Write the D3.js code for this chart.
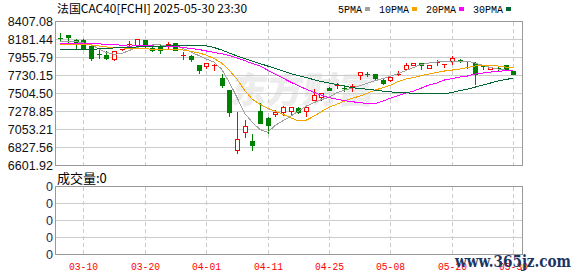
<!DOCTYPE html>
<html>
<head>
<meta charset="utf-8">
<script src="https://cdn.jsdelivr.net/npm/d3@7"></script>
<style>
  html, body { margin: 0; padding: 0; background: #fff; }
  svg { display: block; }
</style>
</head>
<body>
<div id="chart"></div>
<script>
// CAC40 daily k-line, 2025-03-05 .. 2025-05-30
const dates = [
  '2025-03-05','2025-03-06','2025-03-07','2025-03-10','2025-03-11','2025-03-12','2025-03-13','2025-03-14',
  '2025-03-17','2025-03-18','2025-03-19','2025-03-20','2025-03-21','2025-03-24','2025-03-25','2025-03-26',
  '2025-03-27','2025-03-28','2025-03-31','2025-04-01','2025-04-02','2025-04-03','2025-04-04','2025-04-07',
  '2025-04-08','2025-04-09','2025-04-10','2025-04-11','2025-04-14','2025-04-15','2025-04-16','2025-04-17',
  '2025-04-22','2025-04-23','2025-04-24','2025-04-25','2025-04-28','2025-04-29','2025-04-30','2025-05-02',
  '2025-05-05','2025-05-06','2025-05-07','2025-05-08','2025-05-09','2025-05-12','2025-05-13','2025-05-14',
  '2025-05-15','2025-05-16','2025-05-19','2025-05-20','2025-05-21','2025-05-22','2025-05-23','2025-05-26',
  '2025-05-27','2025-05-28','2025-05-29','2025-05-30'
];
const opens = [8205,8233,8173,8173,8101,8004,7991,7941,8056,8124,8117,8173,8076,8088,8098,8142,7989,7975,7865,7853,
  7864,7698,7550,6800,7026,6913,7291,7194,7252,7270,7291,7320,7291,7417,7459,7572,7604,7574,7592,7732,
  7746,7752,7677,7669,7750,7815,7857,7891,7824,7895,7875,7908,7922,7912,7887,7846,7815,7826,7866,7782];
const highs = [8261,8236,8193,8185,8101,8076,8034,8034,8068,8160,8185,8173,8088,8110,8151,8142,8025,7991,7865,7891,
  7878,7752,7550,7278,7177,6996,7387,7207,7303,7354,7333,7333,7329,7563,7509,7580,7635,7605,7626,7773,
  7770,7752,7689,7723,7782,7891,7887,7891,7857,7928,7880,7971,7941,7912,7899,7866,7840,7845,7866,7782];
const lows = [8168,8143,8080,8075,7928,7950,7933,7928,8050,8088,8117,8085,8040,8017,8067,8047,7941,7908,7765,7824,
  7802,7584,7219,6757,6955,6800,7135,7005,7228,7240,7240,7261,7219,7417,7417,7545,7572,7530,7534,7689,
  7720,7669,7618,7660,7732,7795,7857,7815,7824,7866,7836,7878,7899,7824,7626,7815,7810,7795,7795,7752];
const closes = [8198,8215,8142,8080,7946,8000,7953,8034,8062,8128,8185,8101,8047,8050,8126,8047,7993,7941,7802,7887,
  7868,7606,7278,6933,7102,6858,7135,7110,7268,7333,7333,7278,7329,7487,7509,7550,7608,7570,7596,7773,
  7742,7698,7639,7710,7754,7866,7887,7857,7857,7899,7879,7950,7918,7906,7744,7842,7835,7822,7807,7752];

const ma5 = [8158,8158,8155,8139,8120,8063,8019,7996,8006,8044,8082,8107,8113,8113,8107,8101,8069,8025,7981,7937,
  7899,7811,7647,7458,7257,7143,7055,7017,7106,7162,7219,7282,7345,7389,7427,7458,7515,7547,7572,7603,
  7635,7666,7691,7723,7754,7792,7830,7868,7887,7899,7906,7899,7906,7912,7887,7858,7830,7811,7798,7795];
const ma10 = [8120,8120,8120,8120,8113,8101,8088,8082,8076,8072,8069,8067,8059,8057,8059,8059,8050,8032,8013,7987,
  7943,7887,7798,7685,7546,7433,7370,7320,7282,7244,7200,7162,7168,7219,7276,7332,7370,7408,7446,7471,
  7509,7547,7578,7610,7654,7685,7704,7729,7748,7767,7786,7798,7811,7830,7849,7858,7855,7849,7836,7824];
const ma20 = [8126,8132,8135,8132,8129,8126,8122,8120,8107,8097,8107,8110,8101,8095,8088,8095,8082,8069,8057,8038,
  8019,8004,7981,7950,7918,7880,7849,7798,7748,7698,7647,7603,7559,7521,7483,7452,7433,7414,7402,7389,
  7379,7379,7408,7446,7477,7512,7534,7572,7610,7635,7673,7691,7710,7723,7748,7761,7773,7782,7790,7795];
const ma30 = [8050,8059,8059,8059,8059,8063,8069,8076,8076,8082,8088,8088,8092,8097,8101,8107,8107,8107,8105,8101,
  8082,8050,8013,7975,7941,7912,7880,7849,7817,7786,7754,7729,7704,7679,7654,7635,7616,7597,7578,7565,
  7559,7547,7534,7525,7518,7512,7509,7505,7502,7502,7502,7515,7540,7559,7584,7609,7635,7660,7679,7698];

const maLabels = ['5PMA', '10PMA', '20PMA', '30PMA'];
const maColors = ['#a0a0a0', '#f4a300', '#ff00ff', '#006633'];

const priceTicks = [8407.08, 8181.44, 7955.79, 7730.15, 7504.50, 7278.85, 7053.21, 6827.56, 6601.92];
const volTickLabels = ['0', '0', '0', '0', '0'];
const xTickDates = ['2025-03-10','2025-03-20','2025-04-01','2025-04-11','2025-04-25','2025-05-08','2025-05-20','2025-05-30'];
const xTickLabels = ['03-10','03-20','04-01','04-11','04-25','05-08','05-20','05-30'];

const titleText = '法国CAC40[FCHI] 2025-05-30 23:30';
const volTitle = '成交量:0';

(function () {
  const W = 578, H = 276;
  const L = 55.5, R = 522.5;          // plot frame (half-pixel for crisp 1px lines)
  const PT = 21.5, PB = 165.5;        // price panel
  const VT = 186.5, VB = 254.5;       // volume panel
  const UP = '#ff0000', DOWN = '#008000';
  const MONO = "'Liberation Mono', 'DejaVu Sans Mono', monospace";
  const CJK = "'Noto Sans CJK SC', 'Liberation Mono', sans-serif";
  const SANS = "'Liberation Sans', Arial, sans-serif";

  const svg = d3.select('#chart').append('svg')
    .attr('width', W).attr('height', H)
    .attr('viewBox', `0 0 ${W} ${H}`);

  const x = d3.scalePoint().domain(dates).range([60.3, 513.3]);
  const y = d3.scaleLinear()
    .domain([priceTicks[priceTicks.length - 1], priceTicks[0]])
    .range([PB, PT]);
  const yv = d3.scaleLinear().domain([0, volTickLabels.length - 1]).range([VB, VT]);
  const px = (d) => Math.round(x(d)) + 0.5;

  // faint site watermark behind the candles
  svg.append('text')
    .attr('x', 232).attr('y', 103)
    .attr('font-family', CJK).attr('font-weight', 900)
    .attr('font-size', 36).attr('fill', '#ececec')
    .attr('transform', 'skewX(-8) translate(12,0)')
    .text('东方财富');

  // ---- grids ----
  const grid = svg.append('g').attr('shape-rendering', 'crispEdges');
  grid.selectAll('line.h').data(priceTicks.slice(1, -1)).enter().append('line')
    .attr('x1', L).attr('x2', R)
    .attr('y1', (d) => Math.round(y(d) - 0.5) + 0.5).attr('y2', (d) => Math.round(y(d) - 0.5) + 0.5)
    .attr('stroke', '#cccccc');
  grid.selectAll('line.vh').data(d3.range(1, volTickLabels.length - 1)).enter().append('line')
    .attr('x1', L).attr('x2', R)
    .attr('y1', (d) => yv(d)).attr('y2', (d) => yv(d))
    .attr('stroke', '#cccccc');
  [[PT, PB], [VT, VB]].forEach(([t, b]) => {
    grid.selectAll(null).data(xTickDates).enter().append('line')
      .attr('x1', px).attr('x2', px)
      .attr('y1', t).attr('y2', b)
      .attr('stroke', '#cccccc').attr('stroke-dasharray', '4,3');
  });
  grid.append('rect').attr('x', L).attr('y', PT).attr('width', R - L).attr('height', PB - PT)
    .attr('fill', 'none').attr('stroke', '#999999');
  grid.append('rect').attr('x', L).attr('y', VT).attr('width', R - L).attr('height', VB - VT)
    .attr('fill', 'none').attr('stroke', '#999999');

  // ---- candles ----
  const candles = svg.append('g').attr('shape-rendering', 'crispEdges');
  dates.forEach((d, i) => {
    const o = opens[i], c = closes[i];
    const up = c >= o;
    const col = up ? UP : DOWN;
    const cx = Math.round(x(d));
    const yTop = Math.round(y(Math.max(o, c)));
    const yBot = Math.round(y(Math.min(o, c)));
    candles.append('line')
      .attr('x1', cx + 0.5).attr('x2', cx + 0.5)
      .attr('y1', Math.round(y(highs[i]))).attr('y2', Math.round(y(lows[i])) + 1)
      .attr('stroke', col);
    if (yBot - yTop < 2) {
      candles.append('rect').attr('x', cx - 2).attr('y', yTop).attr('width', 5).attr('height', 1)
        .attr('fill', col);
    } else if (up) {
      candles.append('rect').attr('x', cx - 1.5).attr('y', yTop + 0.5)
        .attr('width', 4).attr('height', yBot - yTop)
        .attr('fill', '#fff').attr('stroke', col);
    } else {
      candles.append('rect').attr('x', cx - 2).attr('y', yTop)
        .attr('width', 5).attr('height', yBot - yTop + 1)
        .attr('fill', col);
    }
  });

  // ---- moving averages ----
  const line = d3.line().x((v, i) => x(dates[i])).y((v) => y(v));
  [ma5, ma10, ma20, ma30].forEach((series, k) => {
    svg.append('path')
      .attr('d', line(series))
      .attr('fill', 'none')
      .attr('stroke', maColors[k])
      .attr('stroke-width', 1)
      .attr('shape-rendering', 'crispEdges');
  });

  // ---- labels ----
  svg.append('text')
    .attr('x', 57).attr('y', 13)
    .attr('font-family', CJK).attr('font-size', 11.5).attr('fill', '#000')
    .attr('textLength', 190).attr('lengthAdjust', 'spacingAndGlyphs')
    .text(titleText);

  let lx = 338;
  maLabels.forEach((lab, k) => {
    const w = lab.length * 6;
    svg.append('text')
      .attr('x', lx).attr('y', 13)
      .attr('font-family', MONO).attr('font-size', 11).attr('fill', '#000')
      .attr('textLength', w).attr('lengthAdjust', 'spacingAndGlyphs')
      .text(lab);
    svg.append('rect')
      .attr('x', lx + w + 3).attr('y', 7).attr('width', 5).attr('height', 4)
      .attr('fill', maColors[k]);
    lx += w + 3 + 5 + 9;
  });

  svg.append('g').selectAll('text').data(priceTicks).enter().append('text')
    .attr('x', 53).attr('y', (d) => y(d)).attr('dy', '0.36em')
    .attr('text-anchor', 'end')
    .attr('font-family', SANS).attr('font-size', 12.5).attr('fill', '#111')
    .text((d) => d.toFixed(2));

  svg.append('text')
    .attr('x', 57).attr('y', 178).attr('dy', '0.36em')
    .attr('font-family', CJK).attr('font-size', 13).attr('fill', '#000')
    .text(volTitle);

  svg.append('g').selectAll('text').data(volTickLabels).enter().append('text')
    .attr('x', 53).attr('y', (d, i) => yv(i)).attr('dy', '0.36em')
    .attr('text-anchor', 'end')
    .attr('font-family', SANS).attr('font-size', 12.5).attr('fill', '#1a2a55')
    .text((d) => d);

  svg.append('g').selectAll('text').data(xTickDates).enter().append('text')
    .attr('x', (d) => px(d)).attr('y', 266).attr('dy', '0.36em')
    .attr('text-anchor', 'middle')
    .attr('font-family', MONO).attr('font-size', 11.5).attr('fill', '#ff0000')
    .attr('textLength', 29).attr('lengthAdjust', 'spacingAndGlyphs')
    .text((d, i) => xTickLabels[i]);

  // site stamp in the corner
  svg.append('text')
    .attr('x', 455).attr('y', 266.5)
    .attr('font-family', "'DejaVu Serif', serif").attr('font-weight', 'bold')
    .attr('font-size', 16).attr('fill', '#1c3461')
    .attr('textLength', 116).attr('lengthAdjust', 'spacingAndGlyphs')
    .text('www.365jz.com');
})();
</script>
</body>
</html>
